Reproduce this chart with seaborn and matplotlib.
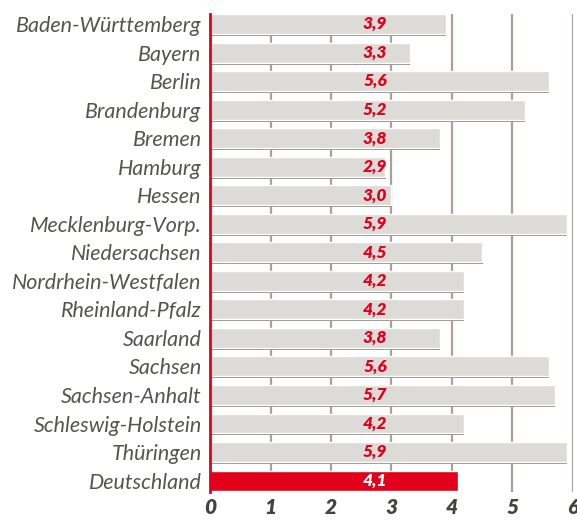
import matplotlib
matplotlib.use("Agg")
import matplotlib.pyplot as plt
import matplotlib.patheffects as pe
import seaborn as sns
import pandas as pd

# --- DATA ---
laender = ["Baden-Württemberg", "Bayern", "Berlin", "Brandenburg", "Bremen",
           "Hamburg", "Hessen", "Mecklenburg-Vorp.", "Niedersachsen",
           "Nordrhein-Westfalen", "Rheinland-Pfalz", "Saarland", "Sachsen",
           "Sachsen-Anhalt", "Schleswig-Holstein", "Thüringen", "Deutschland"]
werte = [3.9, 3.3, 5.6, 5.2, 3.8, 2.9, 3.0, 5.9, 4.5, 4.2, 4.2, 3.8, 5.6,
         5.7, 4.2, 5.9, 4.1]
ticks = [0, 1, 2, 3, 4, 5, 6]

RED = "#e2001a"
GREY_BAR = "#dcdbd7"
TEXT = "#55554f"

df = pd.DataFrame({"land": laender, "wert": werte})
palette = [GREY_BAR] * (len(laender) - 1) + [RED]

sns.set_theme(style="white")
plt.rcParams["font.family"] = ["Lato", "DejaVu Sans"]

fig = plt.figure(figsize=(5.77, 5.22), dpi=100)
ax = fig.add_axes([0.364, 0.0575, 0.629, 0.9155])

# gridlines behind bars
for t in ticks[1:]:
    ax.axvline(t, color="#b89a98" if t == 4 else "#a8a09c", lw=1.6, zorder=0)

sns.barplot(data=df, x="wert", y="land", hue="land", palette=palette,
            legend=False, width=0.7, ax=ax, zorder=2, saturation=1)

for i, p in enumerate(ax.patches):
    shadow = "#8c8882" if i < len(laender) - 1 else "#8a0010"
    p.set_path_effects([pe.SimplePatchShadow(offset=(0.3, -1.4), shadow_rgbFace=shadow, alpha=1),
                        pe.Normal()])

# value labels
for i, v in enumerate(werte):
    col = "white" if i == len(werte) - 1 else RED
    ax.text(2.73, i, f"{v:.1f}".replace(".", ","), ha="center", va="center",
            color=col, fontsize=12.5, fontweight="heavy", fontstyle="italic", zorder=3)

ax.set_xlim(0, 6)
ax.set_ylim(16.4, -0.35)
ax.set_xticks(ticks)
ax.set_xticklabels([str(t) for t in ticks], fontsize=15, fontweight="heavy",
                   fontstyle="italic", color="#44443e")
ax.tick_params(axis="y", labelsize=15.5, colors=TEXT, length=0, pad=6)
ax.tick_params(axis="x", length=0, pad=4)
for lab in ax.get_yticklabels():
    lab.set_fontstyle("italic")
    lab.set_color(TEXT)
ax.set_xlabel("")
ax.set_ylabel("")

for s in ["top", "right", "bottom"]:
    ax.spines[s].set_visible(False)
ax.spines["left"].set_color(RED)
ax.spines["left"].set_linewidth(2)
ax.spines["left"].set_zorder(4)

fig.savefig("out.png", dpi=100)
